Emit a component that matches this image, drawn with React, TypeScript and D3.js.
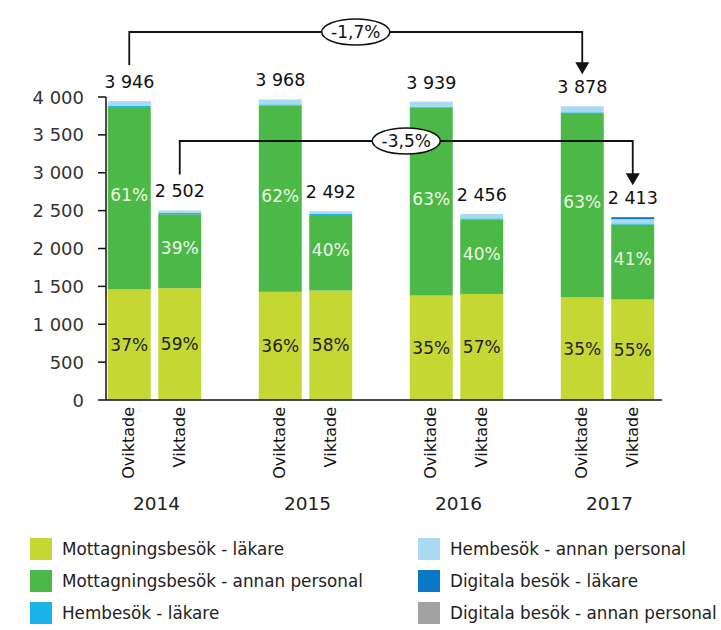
import React from 'react';
import * as d3 from 'd3';

const years = ['2014', '2015', '2016', '2017'];
const weightings = ['Oviktade', 'Viktade'];
const seriesNames = [
  'Mottagningsbesök - läkare',
  'Mottagningsbesök - annan personal',
  'Hembesök - läkare',
  'Hembesök - annan personal',
  'Digitala besök - läkare',
  'Digitala besök - annan personal',
];
// order: 2014 O, 2014 V, 2015 O, 2015 V, 2016 O, 2016 V, 2017 O, 2017 V
const mottLakare = [1460, 1476, 1428, 1445, 1379, 1400, 1355, 1327];
const mottAnnan = [2407, 976, 2460, 997, 2482, 982, 2433, 989];
const hemLakare = [14, 18, 14, 16, 12, 16, 10, 15];
const hemAnnan = [65, 32, 66, 34, 66, 58, 80, 57];
const digLakare = [0, 0, 0, 0, 0, 0, 0, 25];
const digAnnan = [0, 0, 0, 0, 0, 0, 0, 0];
const pctLakare = ['37%', '59%', '36%', '58%', '35%', '57%', '35%', '55%'];
const pctAnnan = ['61%', '39%', '62%', '40%', '63%', '40%', '63%', '41%'];
const changeLabels = ['-1,7%', '-3,5%'];
const yTicks = [0, 500, 1000, 1500, 2000, 2500, 3000, 3500, 4000];

const colors = ['#c5d733', '#4cb848', '#1cb4e8', '#aadaf2', '#0a78c6', '#a2a2a2'];
const FONT = 'DejaVu Sans, sans-serif';

const seriesArrays = [mottLakare, mottAnnan, hemLakare, hemAnnan, digLakare, digAnnan];
const keys = seriesNames;

const rows = mottLakare.map((_, i) => {
  const r: any = { year: years[Math.floor(i / 2)], w: weightings[i % 2], idx: i };
  keys.forEach((k, j) => (r[k] = seriesArrays[j][i]));
  return r;
});

const fmt = (v: number) => d3.format(',')(v).replace(/,/g, ' ');

export default function App() {
  const W = 721, H = 630;
  const y = d3.scaleLinear().domain([0, 4000]).range([400, 97]);
  const x0 = d3.scaleBand().domain(years).range([79, 683]).padding(0);
  const x1 = d3.scaleBand().domain(weightings).range([0, x0.bandwidth()]).paddingInner(0.149).paddingOuter(0.57);
  const stack = d3.stack<any>().keys(keys);
  const stacked = stack(rows);
  const totals = rows.map((r) => keys.reduce((s, k) => s + r[k], 0));
  const cx = (i: number) => (x0(rows[i].year) as number) + (x1(rows[i].w) as number) + x1.bandwidth() / 2;
  const axisLeft = 106, axisRight = 662;

  const brackets = [
    { from: 0, to: 6, yLine: 32, label: changeLabels[0] },
    { from: 1, to: 7, yLine: 141, label: changeLabels[1] },
  ];

  return (
    <svg width={W} height={H} style={{ position: 'absolute', left: 0, top: 0, background: '#fff' }} fontFamily={FONT}>
      {/* bars */}
      {stacked.map((s, si) => (
        <g key={si} fill={colors[si]}>
          {s.map((d, i) => {
            const h = y(d[0]) - y(d[1]);
            if (h <= 0) return null;
            return (
              <rect
                key={i}
                x={(x0(rows[i].year) as number) + (x1(rows[i].w) as number)}
                y={y(d[1])}
                width={x1.bandwidth()}
                height={h}
              />
            );
          })}
        </g>
      ))}
      {/* percentage labels */}
      {rows.map((r, i) => {
        const s0 = stacked[0][i];
        const s1 = stacked[1][i];
        return (
          <g key={'p' + i} fontSize={17} textAnchor="middle" dominantBaseline="central">
            <text x={cx(i)} y={(y(s0[0]) + y(s0[1])) / 2} fill="#222">{pctLakare[i]}</text>
            <text x={cx(i)} y={(y(s1[0]) + y(s1[1])) / 2 - 3} fill="#eef7e6">{pctAnnan[i]}</text>
          </g>
        );
      })}
      {/* totals */}
      {totals.map((t, i) => (
        <text key={'t' + i} x={cx(i)} y={y(t) - 13} fontSize={17.5} textAnchor="middle" fill="#111">
          {fmt(t)}
        </text>
      ))}
      {/* y axis */}
      <line x1={axisLeft} x2={axisLeft} y1={y(4000)} y2={y(0)} stroke="#111" strokeWidth={1.5} />
      {yTicks.map((t) => (
        <g key={'y' + t}>
          <line x1={axisLeft - 8} x2={axisLeft} y1={y(t)} y2={y(t)} stroke="#111" strokeWidth={1.5} />
          <text x={84} y={y(t)} fontSize={18} textAnchor="end" dominantBaseline="central" fill="#333">
            {fmt(t)}
          </text>
        </g>
      ))}
      {/* x axis */}
      <line x1={axisLeft} x2={axisRight} y1={y(0)} y2={y(0)} stroke="#111" strokeWidth={1.5} />
      {rows.map((r, i) => (
        <text
          key={'w' + i}
          transform={`translate(${cx(i) + 5},407) rotate(-90)`}
          fontSize={16}
          textAnchor="end"
          fill="#111"
        >
          {r.w}
        </text>
      ))}
      {years.map((yr) => (
        <text
          key={yr}
          x={(x0(yr) as number) + x0.bandwidth() / 2 + 2}
          y={510}
          fontSize={18.5}
          textAnchor="middle"
          fill="#222"
        >
          {yr}
        </text>
      ))}
      {/* change brackets */}
      {brackets.map((b, bi) => {
        const xl = cx(b.from), xr = cx(b.to);
        const yl = y(totals[b.from]) - 13 - 23;
        const yr = y(totals[b.to]) - 13 - 19;
        const mid = (xl + xr) / 2;
        return (
          <g key={'b' + bi}>
            <path d={`M${xl},${yl}V${b.yLine}H${xr}V${yr - 11}`} fill="none" stroke="#111" strokeWidth={1.8} />
            <path d={`M${xr - 7},${yr - 12}L${xr + 7},${yr - 12}L${xr},${yr}Z`} fill="#111" />
            <ellipse cx={mid} cy={b.yLine} rx={34} ry={13} fill="#fff" stroke="#111" strokeWidth={1.5} />
            <text x={mid} y={b.yLine} fontSize={17} textAnchor="middle" dominantBaseline="central" fill="#111">
              {b.label}
            </text>
          </g>
        );
      })}
      {/* legend */}
      {seriesNames.map((n, i) => {
        const col = Math.floor(i / 3);
        const row = i % 3;
        const lx = col === 0 ? 30 : 418;
        const ly = 549 + row * 32;
        return (
          <g key={'l' + i}>
            <rect x={lx} y={ly - 11} width={22} height={22} fill={colors[i]} />
            <text x={lx + 32} y={ly} fontSize={16.8} dominantBaseline="central" fill="#222">
              {n}
            </text>
          </g>
        );
      })}
    </svg>
  );
}
